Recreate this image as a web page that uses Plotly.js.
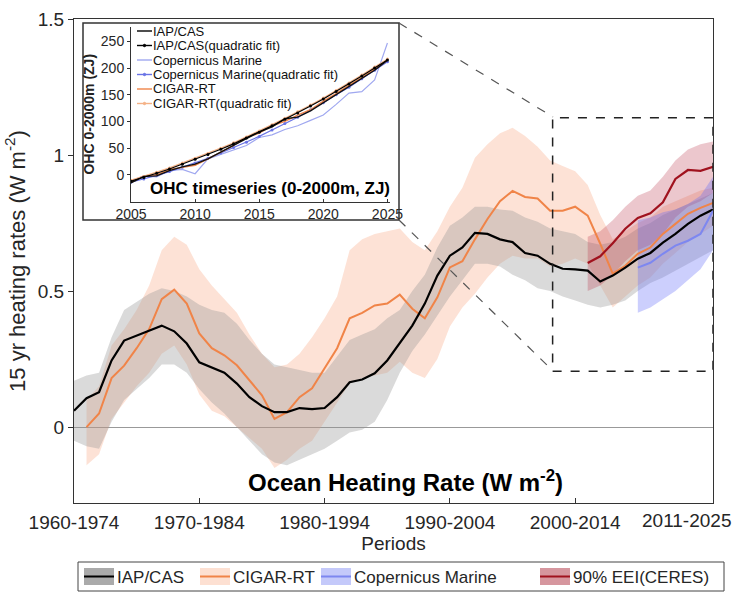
<!DOCTYPE html>
<html><head><meta charset="utf-8">
<script src="https://cdn.plot.ly/plotly-3.0.1.min.js"></script>
<style>html,body{margin:0;padding:0;background:#fff}#chart{width:735px;height:592px}</style>
</head><body><div id="chart"></div>
<script>
// ---------------- data (15-yr windows, labelled by start year) ----------------
const years = [1960,1961,1962,1963,1964,1965,1966,1967,1968,1969,1970,1971,1972,1973,1974,1975,1976,1977,1978,1979,1980,1981,1982,1983,1984,1985,1986,1987,1988,1989,1990,1991,1992,1993,1994,1995,1996,1997,1998,1999,2000,2001,2002,2003,2004,2005,2006,2007,2008,2009,2010,2011];
const iapRate = [0.06,0.106,0.128,0.245,0.318,0.337,0.355,0.373,0.352,0.307,0.238,0.22,0.20,0.16,0.11,0.077,0.055,0.055,0.07,0.066,0.07,0.11,0.165,0.175,0.198,0.245,0.307,0.373,0.454,0.557,0.63,0.66,0.714,0.71,0.69,0.68,0.64,0.63,0.60,0.582,0.58,0.575,0.535,0.557,0.586,0.619,0.64,0.678,0.71,0.747,0.777,0.80];
const iapUpper = [0.17,0.19,0.20,0.33,0.43,0.46,0.49,0.51,0.50,0.48,0.45,0.43,0.42,0.38,0.32,0.27,0.23,0.22,0.21,0.20,0.20,0.26,0.32,0.34,0.36,0.40,0.43,0.50,0.56,0.66,0.74,0.77,0.81,0.81,0.80,0.795,0.77,0.755,0.73,0.72,0.71,0.68,0.67,0.68,0.70,0.73,0.75,0.78,0.80,0.82,0.84,0.86];
const iapLower = [-0.05,-0.07,-0.08,0.02,0.10,0.14,0.18,0.23,0.23,0.20,0.14,0.09,0.05,0.0,-0.05,-0.10,-0.13,-0.14,-0.12,-0.10,-0.08,-0.05,-0.02,-0.01,0.02,0.10,0.20,0.28,0.34,0.41,0.48,0.54,0.60,0.60,0.59,0.56,0.54,0.51,0.50,0.48,0.465,0.45,0.44,0.45,0.465,0.50,0.53,0.55,0.575,0.60,0.625,0.65];

const cigYears = [1961,1962,1963,1964,1965,1966,1967,1968,1969,1970,1971,1972,1973,1974,1975,1976,1977,1978,1979,1980,1981,1982,1983,1984,1985,1986,1987,1988,1989,1990,1991,1992,1993,1994,1995,1996,1997,1998,1999,2000,2001,2002,2003,2004,2005,2006,2007,2008,2009,2010,2011];
const cigRate = [0.0,0.05,0.18,0.226,0.29,0.36,0.47,0.505,0.454,0.344,0.29,0.264,0.227,0.172,0.117,0.03,0.055,0.11,0.143,0.216,0.29,0.40,0.42,0.447,0.454,0.487,0.435,0.40,0.477,0.587,0.61,0.69,0.765,0.83,0.868,0.846,0.84,0.795,0.795,0.81,0.777,0.674,0.564,0.593,0.637,0.66,0.71,0.747,0.784,0.806,0.824];
const cigUpper = [0.10,0.15,0.30,0.36,0.43,0.52,0.65,0.70,0.67,0.58,0.52,0.47,0.42,0.34,0.27,0.22,0.23,0.27,0.33,0.40,0.48,0.65,0.69,0.71,0.72,0.73,0.68,0.65,0.72,0.81,0.88,0.99,1.04,1.08,1.10,1.07,1.03,0.98,0.96,0.94,0.89,0.78,0.69,0.72,0.75,0.77,0.81,0.83,0.85,0.87,0.88];
const cigLower = [-0.14,-0.10,0.03,0.09,0.15,0.20,0.27,0.30,0.23,0.12,0.06,0.04,0.00,-0.04,-0.08,-0.15,-0.12,-0.08,-0.05,0.02,0.09,0.16,0.18,0.19,0.20,0.24,0.20,0.18,0.25,0.37,0.44,0.49,0.55,0.60,0.63,0.62,0.62,0.59,0.60,0.62,0.60,0.52,0.44,0.48,0.52,0.55,0.60,0.64,0.68,0.71,0.74];

const ceresYears = [2001,2002,2003,2004,2005,2006,2007,2008,2009,2010,2011];
const ceresRate  = [0.603,0.628,0.676,0.729,0.769,0.786,0.826,0.912,0.945,0.942,0.957];
const ceresUpper = [0.70,0.72,0.76,0.81,0.85,0.87,0.92,0.98,1.02,1.04,1.05];
const ceresLower = [0.50,0.52,0.56,0.61,0.65,0.67,0.71,0.77,0.81,0.83,0.86];

const copYears = [2005,2006,2007,2008,2009,2010,2011];
const copRate  = [0.586,0.604,0.637,0.667,0.685,0.71,0.795];
const copUpper = [0.76,0.77,0.79,0.80,0.82,0.85,0.92];
const copLower = [0.42,0.44,0.47,0.50,0.54,0.58,0.65];

const periodTicks  = [1960,1970,1980,1990,2000,2011];
const periodLabels = ['1960-1974','1970-1984','1980-1994','1990-2004','2000-2014','2011-2025'];
const rateTicks = [0,0.5,1,1.5];
const rateLabels = ['0','0.5','1','1.5'];

// inset: OHC 0-2000 m (ZJ)
const insetYears = [2005,2006,2007,2008,2009,2010,2011,2012,2013,2014,2015,2016,2017,2018,2019,2020,2021,2022,2023,2024,2025];
const iapOhc = [-15,-3,-2,8,15,20,30,43,55,68,80,90,105,108,120,135,150,165,180,196,215];
const iapFit = [-12,-5,3,11,20,29,38,48,58,69,80,92,104,116,129,142,156,170,185,200,215];
const copOhc = [-12,-2,-4,8,10,2,30,38,46,55,70,75,85,92,102,112,132,153,156,178,247];
const copFit = [-14,-8,-1,6,14,22,31,41,51,61,72,84,96,108,122,135,150,164,180,196,212];
const cigOhc = [-14,-2,0,10,14,18,30,42,55,70,78,92,100,112,122,138,152,168,182,198,215];
const cigFit = [-10,-3,5,13,22,31,40,50,60,71,82,94,106,118,131,144,158,172,187,202,217];
const insetTicksX = [2005,2010,2015,2020,2025];
const insetTicksY = [0,50,100,150,200,250];

const legendLabels = ['IAP/CAS','CIGAR-RT','Copernicus Marine','90% EEI(CERES)'];
const insetLegendLabels = ['IAP/CAS','IAP/CAS(quadratic fit)','Copernicus Marine','Copernicus Marine(quadratic fit)','CIGAR-RT','CIGAR-RT(quadratic fit)'];

// ---------------- styles ----------------
const FONT = 'Liberation Sans, Arial, sans-serif';
const TXT = '#262626';
const C = {
  iap:'#000000', iapBand:'rgba(150,150,150,0.35)', iapSw:'rgb(170,170,170)',
  cig:'rgb(240,132,72)', cigBand:'rgba(250,160,120,0.30)', cigSw:'rgb(253,224,210)',
  cop:'rgb(125,135,240)', copBand:'rgba(100,110,250,0.33)', copSw:'rgb(196,201,250)',
  ceres:'rgb(160,18,30)', ceresBand:'rgba(180,40,60,0.26)', ceresSw:'rgb(214,150,158)',
  copFit:'rgb(105,115,230)', cigFit:'rgb(245,178,135)'
};

// plot-area pixel geometry
const W=735, H=592, PL=74, PR=713, PT=19, PB=503;
const fx = p => (p-PL)/(PR-PL);
const fy = p => (PB-p)/(PB-PT);

function band(x, up, lo, color){
  return {x: x.concat(x.slice().reverse()), y: up.concat(lo.slice().reverse()),
    type:'scatter', mode:'lines', fill:'toself', fillcolor:color, line:{width:0},
    hoverinfo:'skip', showlegend:false};
}
function line(x, y, color, w){
  return {x:x, y:y, type:'scatter', mode:'lines', line:{color:color, width:w}, showlegend:false};
}
function iline(x, y, color, w, mk){
  const t = {x:x, y:y, xaxis:'x2', yaxis:'y2', type:'scatter', mode: mk ? 'lines+markers':'lines',
    line:{color:color, width:w}, showlegend:false};
  if(mk) t.marker = {color:color, size:3};
  return t;
}

const traces = [
  band(cigYears, cigUpper, cigLower, C.cigBand),
  band(years, iapUpper, iapLower, C.iapBand),
  band(ceresYears, ceresUpper, ceresLower, C.ceresBand),
  band(copYears, copUpper, copLower, C.copBand),
  line(cigYears, cigRate, C.cig, 2),
  line(years, iapRate, C.iap, 2.2),
  line(copYears, copRate, C.cop, 2),
  line(ceresYears, ceresRate, C.ceres, 2.2),
  // inset
  iline(insetYears, copOhc, 'rgb(160,168,240)', 1.2, false),
  iline(insetYears, copFit, C.copFit, 1.2, true),
  iline(insetYears, cigOhc, C.cig, 1.4, false),
  iline(insetYears, cigFit, C.cigFit, 1.2, true),
  iline(insetYears, iapOhc, '#111', 1.4, false),
  iline(insetYears, iapFit, '#000', 1.2, true)
];

// ---------------- shapes & annotations ----------------
const shapes = [
  {type:'rect', xref:'paper', yref:'paper', x0:fx(83), x1:fx(399), y0:fy(220), y1:fy(23), line:{color:'#333', width:1.5}, fillcolor:'rgba(0,0,0,0)', layer:'above'},
  {type:'rect', xref:'x', yref:'y', x0:1998.2, x1:2011, y0:0.205, y1:1.137, line:{color:'#222', width:1.5, dash:'dash'}, layer:'above'},
  {type:'line', xref:'paper', yref:'paper', x0:fx(399), y0:fy(23), x1:fx(553), y1:fy(117), line:{color:'#555', width:1.2, dash:'dash'}, layer:'above'},
  {type:'line', xref:'paper', yref:'paper', x0:fx(399), y0:fy(220), x1:fx(553), y1:fy(371), line:{color:'#555', width:1.2, dash:'dash'}, layer:'above'},
  {type:'rect', xref:'paper', yref:'paper', x0:fx(78), x1:fx(724), y0:fy(591), y1:fy(562), line:{color:'#444', width:1}, fillcolor:'rgba(0,0,0,0)'}
];
const annotations = [
  {xref:'paper', yref:'paper', x:fx(406), y:fy(481), text:'Ocean Heating Rate (W m<sup>-2</sup>)', showarrow:false,
   font:{family:FONT, size:24, color:'#000', weight:700}, xanchor:'center', yanchor:'middle'},
  {xref:'paper', yref:'paper', x:fx(270), y:fy(188), text:'OHC timeseries (0-2000m, ZJ)', showarrow:false,
   font:{family:FONT, size:17, color:'#000', weight:700}, xanchor:'center', yanchor:'middle'},
  {xref:'paper', yref:'paper', x:fx(733), y:fy(520), text:periodLabels[5], showarrow:false,
   font:{family:FONT, size:19, color:TXT}, xanchor:'right', yanchor:'middle'}
];

// bottom legend
const legX = [84, 200, 321, 540];
const legSw = [C.iapSw, C.cigSw, C.copSw, C.ceresSw];
const legLn = [C.iap, C.cig, C.cop, C.ceres];
legendLabels.forEach((lab, i) => {
  const x0 = legX[i];
  shapes.push({type:'rect', xref:'paper', yref:'paper', x0:fx(x0), x1:fx(x0+30), y0:fy(585), y1:fy(568), line:{width:0}, fillcolor:legSw[i]});
  shapes.push({type:'line', xref:'paper', yref:'paper', x0:fx(x0), x1:fx(x0+30), y0:fy(576.5), y1:fy(576.5), line:{color:legLn[i], width:2}});
  annotations.push({xref:'paper', yref:'paper', x:fx(x0+31), y:fy(577), text:lab, showarrow:false, xanchor:'left', yanchor:'middle',
    font:{family:FONT, size:17, color:TXT}});
});

// inset legend
const inLegY = [31, 45.5, 60, 74.5, 89, 103.5];
const inLegC = ['#000','#000','rgb(160,168,240)',C.copFit,C.cig,C.cigFit];
const inLegMk = [false,true,false,true,false,true];
insetLegendLabels.forEach((lab, i) => {
  const y = inLegY[i];
  shapes.push({type:'line', xref:'paper', yref:'paper', x0:fx(137), x1:fx(152), y0:fy(y), y1:fy(y), line:{color:inLegC[i], width:1.4}});
  if(inLegMk[i]) shapes.push({type:'circle', xref:'paper', yref:'paper', x0:fx(143.3), x1:fx(145.7), y0:fy(y+1.2), y1:fy(y-1.2), line:{color:inLegC[i], width:1}, fillcolor:inLegC[i]});
  annotations.push({xref:'paper', yref:'paper', x:fx(152), y:fy(y), text:lab, showarrow:false, xanchor:'left', yanchor:'middle',
    borderpad:0, font:{family:FONT, size:13, color:'#111'}});
});

const layout = {
  width:W, height:H, margin:{l:PL, r:W-PR, t:PT, b:H-PB}, paper_bgcolor:'#fff', plot_bgcolor:'#fff',
  showlegend:false, font:{family:FONT, color:TXT},
  xaxis:{range:[1960,2011], tickvals:periodTicks.slice(0,5), ticktext:periodLabels.slice(0,5),
    ticks:'inside', ticklen:5, tickcolor:'#333', showline:true, linecolor:'#333', linewidth:1, mirror:true,
    showgrid:false, zeroline:false, tickfont:{family:FONT, size:19, color:TXT}, ticklabelstandoff:2,
    title:{text:'Periods', font:{family:FONT, size:19, color:TXT}, standoff:1}},
  yaxis:{range:[-0.279,1.5], tickvals:rateTicks, ticktext:rateLabels,
    ticks:'outside', ticklen:5, tickcolor:'#333', showline:true, linecolor:'#333', linewidth:1, mirror:true,
    showgrid:false, zeroline:true, zerolinecolor:'#999', zerolinewidth:1,
    tickfont:{family:FONT, size:19, color:TXT},
    title:{text:'15 yr heating rates (W m<sup>-2</sup>)', font:{family:FONT, size:22, color:TXT}, standoff:6}},
  yaxis3:{overlaying:'y', side:'right', anchor:'x', range:[-0.279,1.5], tickvals:rateTicks,
    ticks:'inside', ticklen:5, tickcolor:'#333', showticklabels:false, showline:false, showgrid:false, zeroline:false},
  xaxis2:{domain:[fx(131), fx(390)], anchor:'y2', range:[2005,2025.2], tickvals:insetTicksX,
    ticks:'inside', ticklen:3, tickcolor:'#333', showline:true, linecolor:'#333', linewidth:1,
    showgrid:false, zeroline:false, tickfont:{family:FONT, size:14, color:TXT}},
  yaxis2:{domain:[fy(201.5), fy(27)], anchor:'x2', range:[-50,277], tickvals:insetTicksY,
    ticks:'outside', ticklen:3, tickcolor:'#333', showline:true, linecolor:'#333', linewidth:1,
    showgrid:false, zeroline:false, tickfont:{family:FONT, size:14, color:TXT},
    title:{text:'OHC 0-2000m (ZJ)', font:{family:FONT, size:14, color:'#222', weight:700}, standoff:2}},
  shapes:shapes, annotations:annotations
};

Plotly.newPlot('chart', traces, layout, {displayModeBar:false, staticPlot:true});
</script>
</body></html>
